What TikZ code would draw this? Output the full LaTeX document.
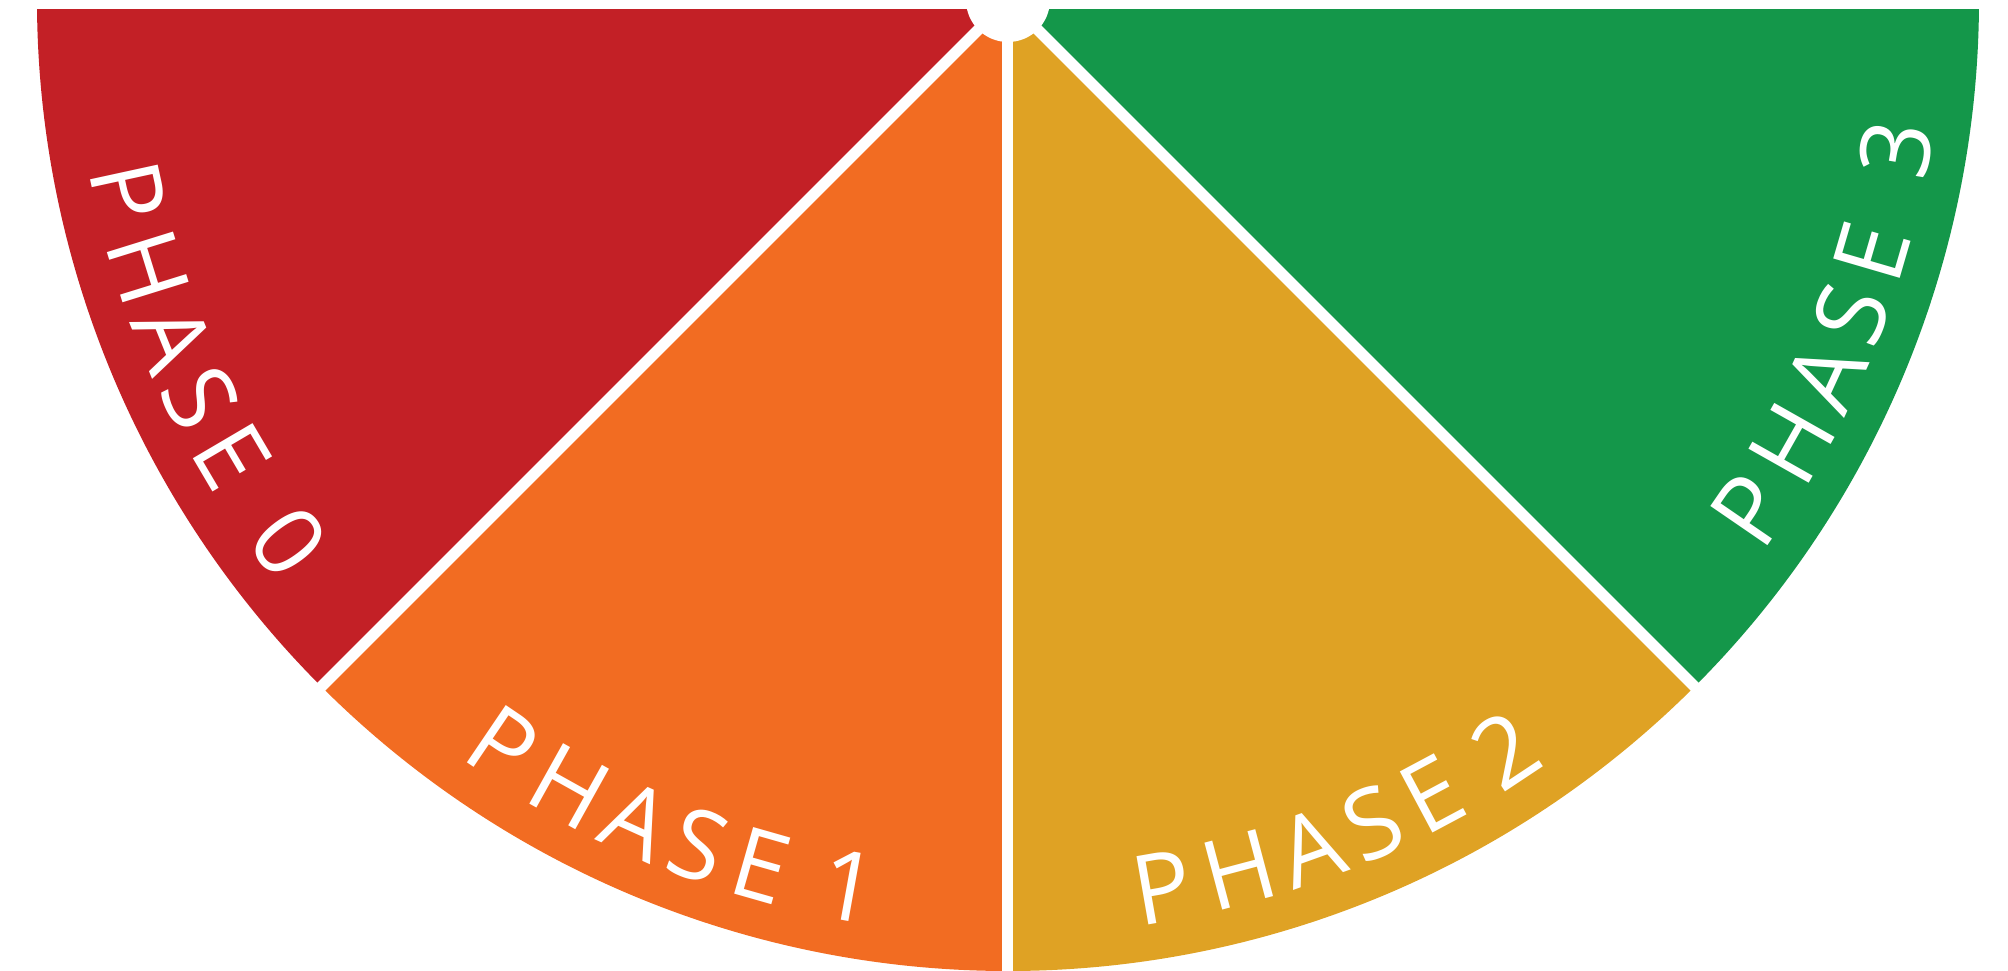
\documentclass[tikz,border=0pt]{standalone}
\usepackage{fontspec}
\setmainfont{Open Sans}
\definecolor{phred}{RGB}{195,32,38}
\definecolor{phorange}{RGB}{242,108,34}
\definecolor{phyellow}{RGB}{223,162,36}
\definecolor{phgreen}{RGB}{20,151,74}
\begin{document}
\begin{tikzpicture}[x=1pt,y=1pt,
  gap/.style={white, line width=11pt},
  letter/.style={text=white, inner sep=0pt, anchor=base, font=\fontsize{97}{100}\selectfont}]
\useasboundingbox (-1008,-971) rectangle (1000,0);
\begin{scope}
  \clip (-1008,-971) rectangle (1000,-10);
  \fill[phred] (0,0) -- (180:971) arc[start angle=180,end angle=225,radius=971] -- cycle;
  \fill[phorange] (0,0) -- (225:971) arc[start angle=225,end angle=270,radius=971] -- cycle;
  \fill[phyellow] (0,0) -- (270:971) arc[start angle=270,end angle=315,radius=971] -- cycle;
  \fill[phgreen] (0,0) -- (315:971) arc[start angle=315,end angle=360,radius=971] -- cycle;
\end{scope}
\coordinate (c) at (0,0);
\coordinate (e1) at (225:990);
\coordinate (e2) at (270:990);
\coordinate (e3) at (315:990);
\draw[gap] (c) -- (e1);
\draw[gap] (c) -- (e2);
\draw[gap] (c) -- (e3);
\fill[white] (c) circle[radius=42];
% PHASE 0
\foreach \a/\t [count=\i, evaluate=\a as \r using \a+90] in {192.27/P,197.27/H,202.07/A,206.27/S,210.47/E,217.0/0}
  \node[letter, rotate=\r] (pa\i) at (\a:935) {\t};
% PHASE 1
\foreach \a/\t [count=\i, evaluate=\a as \r using \a+90] in {235.88/P,240.88/H,245.68/A,249.88/S,254.08/E,259.8/1}
  \node[letter, rotate=\r] (pb\i) at (\a:935) {\t};
% PHASE 2
\foreach \a/\t [count=\i, evaluate=\a as \r using \a+90] in {279.88/P,284.88/H,289.68/A,293.88/S,298.08/E,303.55/2}
  \node[letter, rotate=\r] (pc\i) at (\a:935) {\t};
% PHASE 3
\foreach \a/\t [count=\i, evaluate=\a as \r using \a+90] in {325.53/P,330.53/H,335.33/A,339.53/S,343.73/E,350.45/3}
  \node[letter, rotate=\r] (pd\i) at (\a:935) {\t};
\end{tikzpicture}
\end{document}
